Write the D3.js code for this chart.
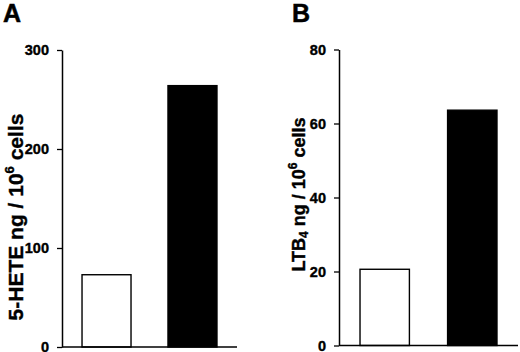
<!DOCTYPE html>
<html>
<head>
<meta charset="utf-8">
<script src="https://cdn.jsdelivr.net/npm/d3@7"></script>
<style>
  body { margin: 0; background: #fff; }
  svg text { font-family: "Liberation Sans", Arial, sans-serif; font-weight: bold; fill: #000; }
</style>
</head>
<body>
<div id="chart"></div>
<script>
// panel A: 5-HETE
const groups = ["control", "treated"];
const heteValues = [73, 264];
const heteTicks = [0, 100, 200, 300];
// panel B: LTB4
const ltbValues = [20.6, 63.6];
const ltbTicks = [0, 20, 40, 60, 80];
const barFills = ["#fff", "#000"];

const svg = d3.select("#chart").append("svg")
    .attr("width", 520)
    .attr("height", 352);

function drawPanel(opts) {
    const g = svg.append("g")
        .attr("transform", `translate(${opts.left},${opts.top})`);

    const y = d3.scaleLinear().domain([0, opts.max]).range([opts.height, 0]);
    const x = d3.scaleBand().domain(groups).range([0, opts.width])
        .paddingInner(opts.padInner).paddingOuter(opts.padOuter);

    g.selectAll(".bar")
        .data(groups)
        .enter()
        .append("rect")
        .attr("class", "bar")
        .attr("x", d => x(d))
        .attr("width", x.bandwidth())
        .attr("y", (d, i) => y(opts.values[i]))
        .attr("height", (d, i) => opts.height - y(opts.values[i]))
        .attr("fill", (d, i) => barFills[i])
        .attr("stroke", "#000")
        .attr("stroke-width", 1.4);

    const yAxis = g.append("g")
        .call(d3.axisLeft(y).tickValues(opts.ticks).tickSize(5).tickPadding(8).tickSizeOuter(0));
    yAxis.select(".domain").attr("stroke-width", 1.5);
    yAxis.selectAll(".tick line").attr("stroke-width", 1.3);
    yAxis.selectAll(".tick text")
        .attr("font-size", "14.5px")
        .attr("font-family", "'Liberation Sans', Arial, sans-serif")
        .attr("font-weight", "bold")
        .attr("stroke", "#000")
        .attr("stroke-width", 0.4);

    g.append("line")
        .attr("x1", 0)
        .attr("x2", opts.width)
        .attr("y1", opts.height)
        .attr("y2", opts.height)
        .attr("stroke", "#000")
        .attr("stroke-width", 1.5);

    const small = Math.round(opts.titleSize * 0.64) + "px";
    const title = g.append("text")
        .attr("transform", `translate(${opts.titleX},${opts.titleY}) rotate(-90)`)
        .attr("text-anchor", "middle")
        .attr("font-size", opts.titleSize + "px")
        .attr("stroke", "#000")
        .attr("stroke-width", 0.4);
    title.append("tspan").text(opts.title1);
    if (opts.sub) {
        title.append("tspan").attr("font-size", small).attr("dy", 3).text(opts.sub);
        title.append("tspan").attr("dy", -3).text(opts.title2);
    }
    title.append("tspan").attr("font-size", small).attr("dy", -opts.titleSize * 0.42).text("6");
    title.append("tspan").attr("dy", opts.titleSize * 0.42).text(" cells");

    svg.append("text")
        .attr("x", opts.letterX)
        .attr("y", 22)
        .attr("font-size", "25px")
        .attr("stroke", "#000")
        .attr("stroke-width", 0.5)
        .text(opts.letter);
}

drawPanel({
    left: 62, top: 50, width: 175, height: 297,
    padInner: 0.43, padOuter: 0.233,
    max: 300, values: heteValues, ticks: heteTicks,
    title1: "5-HETE ng / 10", title2: "", sub: null, titleSize: 21,
    titleX: -39, titleY: 167,
    letter: "A", letterX: 3
});

drawPanel({
    left: 339, top: 49.5, width: 179, height: 296,
    padInner: 0.436, padOuter: 0.24,
    max: 80, values: ltbValues, ticks: ltbTicks,
    title1: "LTB", sub: "4", title2: " ng / 10", titleSize: 18,
    titleX: -34, titleY: 145,
    letter: "B", letterX: 292
});
</script>
</body>
</html>
